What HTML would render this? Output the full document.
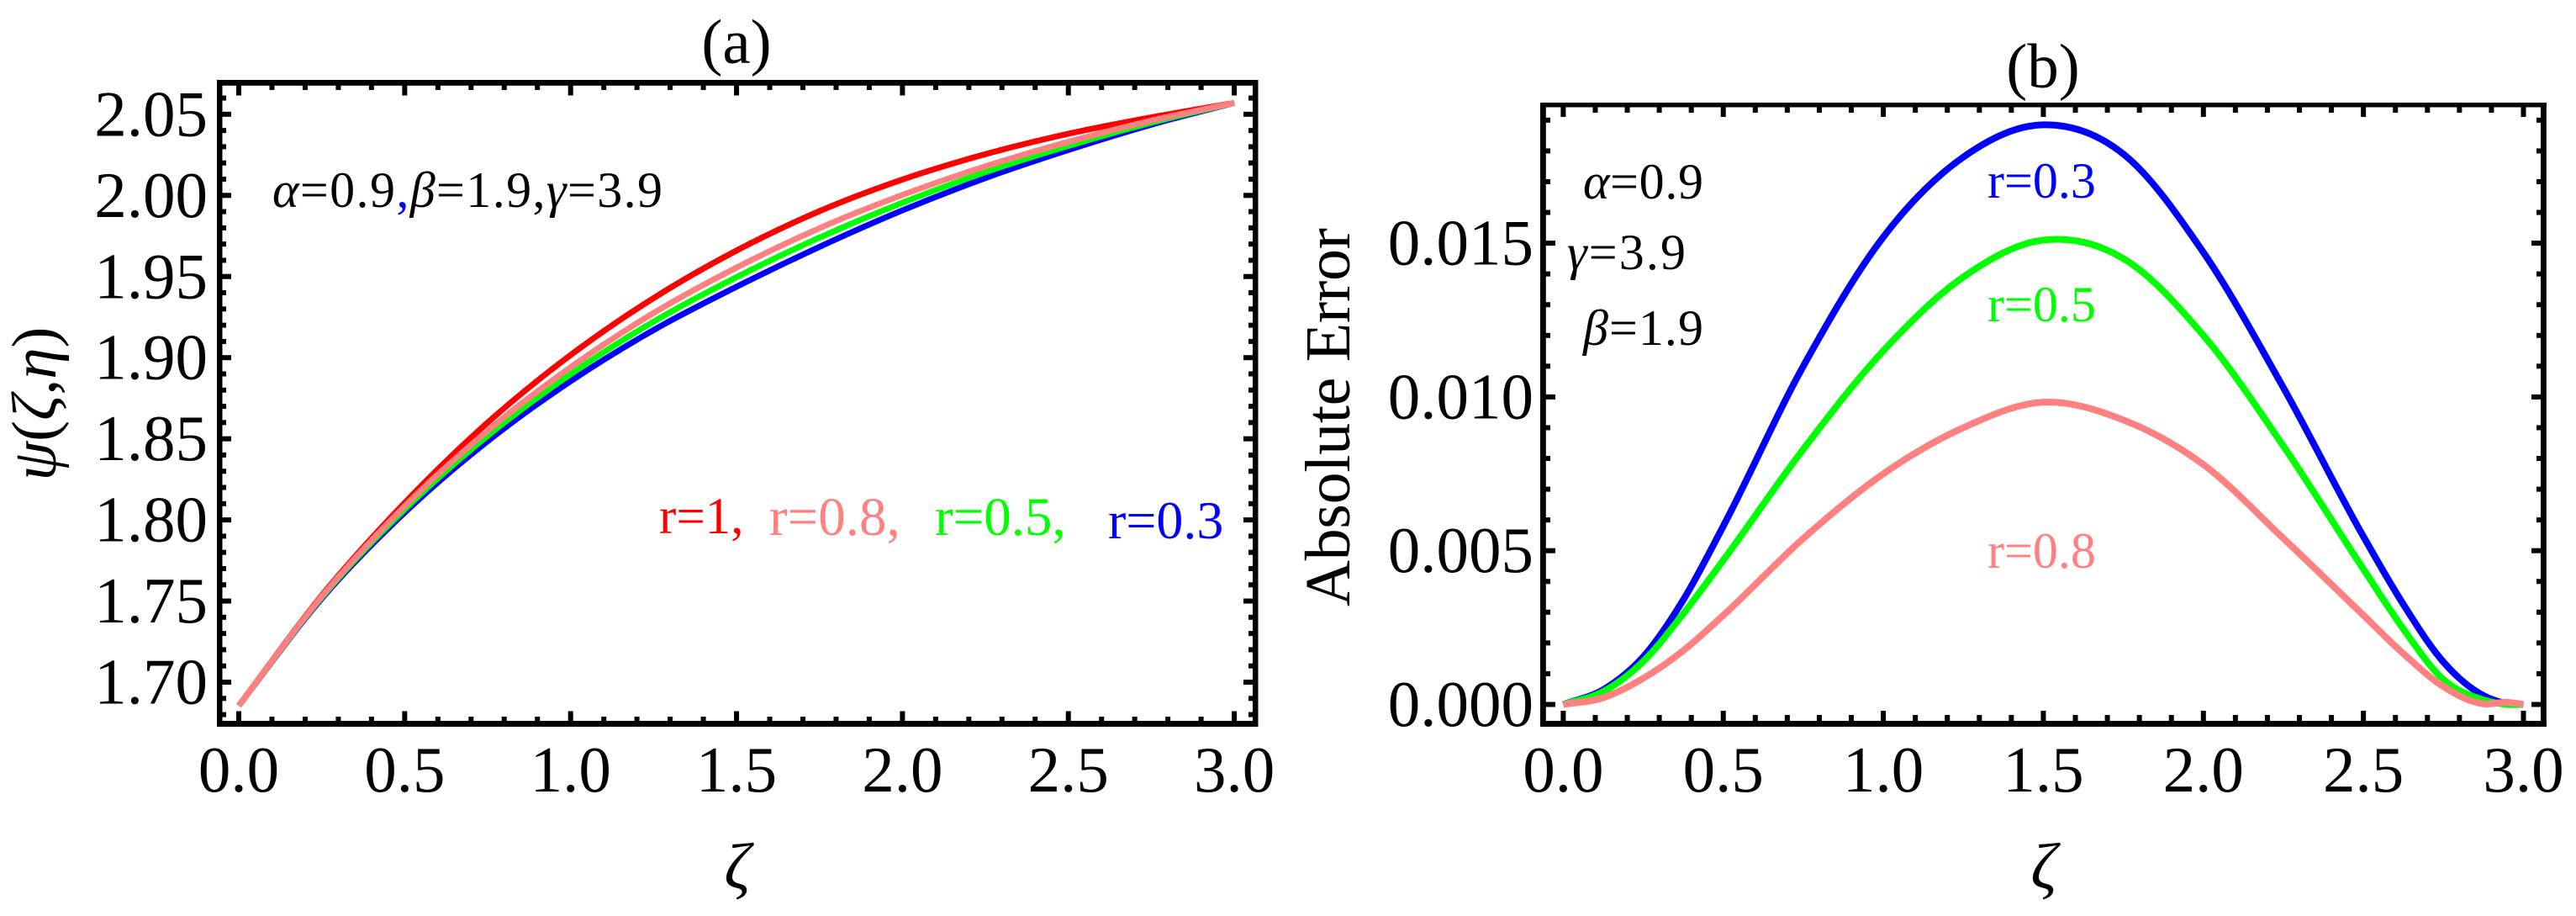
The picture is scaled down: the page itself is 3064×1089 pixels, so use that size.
<!DOCTYPE html>
<html lang="en">
<head>
<meta charset="utf-8">
<title>Solution curves and absolute error</title>
<style>
html,body{margin:0;padding:0;background:#fff;}
svg{display:block;}
text{font-family:"Liberation Serif",serif;fill:#000;}
.i{font-style:italic;}
</style>
</head>
<body>
<svg id="figure" xmlns="http://www.w3.org/2000/svg" width="3064" height="1089" viewBox="0 0 3064 1089">
  <rect x="0" y="0" width="3064" height="1089" fill="#fff"/>

  <g id="panel-a">
    <g id="a-ticks"></g>
    <g id="a-lines"></g>
    <g fill="#000">
      <rect x="258" y="95" width="1238.500" height="6.800"/>
      <rect x="258" y="857" width="1238.500" height="7"/>
      <rect x="258" y="95" width="6.500" height="769"/>
      <rect x="1490" y="95" width="6.500" height="769"/>
    </g>
    <g id="a-labels"></g>
    <text x="876" y="75" font-size="75" text-anchor="middle">(a)</text>
    <text class="i" x="877" y="1056" font-size="77" text-anchor="middle">ζ</text>
    <text transform="translate(66,480) rotate(-90)" font-size="75" text-anchor="middle"><tspan class="i">ψ</tspan>(<tspan class="i">ζ</tspan>,<tspan class="i">η</tspan>)</text>
    <text x="324" y="246" font-size="60" textLength="464"><tspan class="i">α</tspan>=0.9<tspan style="fill:#0000ff">,</tspan><tspan class="i">β</tspan>=1.9,<tspan class="i">γ</tspan>=3.9</text>
    <text x="784" y="634" font-size="61" style="fill:#ff0000">r=1,</text>
    <text x="915" y="636" font-size="65" style="fill:#ff8080">r=0.8,</text>
    <text x="1112" y="636" font-size="65" style="fill:#00ff00">r=0.5,</text>
    <text x="1318" y="640" font-size="64" style="fill:#0000ff">r=0.3</text>
  </g>

  <g id="panel-b">
    <g id="b-ticks"></g>
    <g id="b-lines"></g>
    <g fill="#000">
      <rect x="1832" y="122" width="1197" height="5.500"/>
      <rect x="1832" y="857" width="1197" height="7"/>
      <rect x="1832" y="122" width="6.800" height="742"/>
      <rect x="3022" y="122" width="6.800" height="742"/>
    </g>
    <g id="b-labels"></g>
    <text x="2430" y="104" font-size="75" text-anchor="middle">(b)</text>
    <text class="i" x="2431" y="1056" font-size="77" text-anchor="middle">ζ</text>
    <text transform="translate(1605,496) rotate(-90)" font-size="76" text-anchor="middle" textLength="450">Absolute Error</text>
    <text x="1883" y="236" font-size="60" textLength="143"><tspan class="i">α</tspan>=0.9</text>
    <text x="1864" y="320" font-size="60" textLength="141"><tspan class="i">γ</tspan>=3.9</text>
    <text x="1883" y="410" font-size="60" textLength="143"><tspan class="i">β</tspan>=1.9</text>
    <text x="2364" y="235" font-size="60" style="fill:#0000ff">r=0.3</text>
    <text x="2364" y="382" font-size="60" style="fill:#00ff00">r=0.5</text>
    <text x="2364" y="675" font-size="60" style="fill:#ff8080">r=0.8</text>
  </g>
</svg>

<script>
/* ---------- Panel (a) data ---------- */
const aZeta   = [0, 0.25, 0.5, 0.75, 1, 1.25, 1.5, 1.75, 2, 2.25, 2.5, 2.75, 3];
const aR1     = [1.6855, 1.7534, 1.8105, 1.8600, 1.9016, 1.9367, 1.9660, 1.9903, 2.0098, 2.0254, 2.0380, 2.0481, 2.0570];
const aR08    = [1.6855, 1.7528, 1.8085, 1.8550, 1.8941, 1.9275, 1.9555, 1.9798, 2.0003, 2.0179, 2.0330, 2.0461, 2.0570];
const aR05    = [1.6855, 1.7522, 1.8065, 1.8518, 1.8898, 1.9222, 1.9496, 1.9740, 1.9955, 2.0143, 2.0305, 2.0448, 2.0570];
const aR03    = [1.6855, 1.7515, 1.8045, 1.8485, 1.8855, 1.9170, 1.9437, 1.9683, 1.9908, 2.0107, 2.0280, 2.0436, 2.0570];
const aXTicks = ["0.0", "0.5", "1.0", "1.5", "2.0", "2.5", "3.0"];
const aYTicks = ["1.70", "1.75", "1.80", "1.85", "1.90", "1.95", "2.00", "2.05"];

/* ---------- Panel (b) data ---------- */
const bZeta   = [0, 0.125, 0.25, 0.375, 0.5, 0.75, 1, 1.25, 1.5, 1.75, 2, 2.25, 2.5, 2.625, 2.75, 2.875, 2.95, 3];
const bR03    = [0, 0.00048, 0.00155, 0.00340, 0.00580, 0.01100, 0.01520, 0.01780, 0.01885, 0.01790, 0.01470, 0.01030, 0.00546, 0.00325, 0.00138, 0.00029, 0.00003, 0];
const bR05    = [0, 0.00042, 0.00140, 0.00295, 0.00469, 0.00830, 0.01150, 0.01390, 0.01510, 0.01450, 0.01200, 0.00840, 0.00440, 0.00245, 0.00081, 0.00015, 0, 0];
const bR08    = [0, 0.00022, 0.00085, 0.00175, 0.00290, 0.00540, 0.00750, 0.00900, 0.00983, 0.00925, 0.00780, 0.00540, 0.00290, 0.00165, 0.00058, 0.00002, 0.00007, 0];
const bXTicks = ["0.0", "0.5", "1.0", "1.5", "2.0", "2.5", "3.0"];
const bYTicks = ["0.000", "0.005", "0.010", "0.015"];

/* ---------- Axis functions ---------- */
const ax = v => 284 + 394.7 * v;
const ay = v => 811 - (v - 1.70) * 1929;
const bx = v => 1859.4 + 380.7 * v;
const by = v => 837.5 - v * 36560;

const NS = "http://www.w3.org/2000/svg";

function smoothPath(xs, ys) {
  const n = xs.length, m = [];
  for (let i = 0; i < n; i++) {
    if (i === 0) m.push((ys[1] - ys[0]) / (xs[1] - xs[0]));
    else if (i === n - 1) m.push((ys[i] - ys[i - 1]) / (xs[i] - xs[i - 1]));
    else {
      const h0 = xs[i] - xs[i - 1], h1 = xs[i + 1] - xs[i];
      const d0 = (ys[i] - ys[i - 1]) / h0, d1 = (ys[i + 1] - ys[i]) / h1;
      m.push((d0 * h1 + d1 * h0) / (h0 + h1));
    }
  }
  let d = "M" + xs[0].toFixed(2) + " " + ys[0].toFixed(2);
  for (let i = 0; i < n - 1; i++) {
    const h = (xs[i + 1] - xs[i]) / 3;
    d += "C" + (xs[i] + h).toFixed(2) + " " + (ys[i] + m[i] * h).toFixed(2) + " " +
      (xs[i + 1] - h).toFixed(2) + " " + (ys[i + 1] - m[i + 1] * h).toFixed(2) + " " +
      xs[i + 1].toFixed(2) + " " + ys[i + 1].toFixed(2);
  }
  return d;
}

function drawSeries(parent, name, zeta, vals, fx, fy, color, width) {
  const p = document.createElementNS(NS, "path");
  p.setAttribute("d", smoothPath(zeta.map(fx), vals.map(fy)));
  p.setAttribute("fill", "none");
  p.setAttribute("stroke", color);
  p.setAttribute("stroke-width", width);
  
  
  parent.appendChild(p);
}

function tickRect(parent, name, x, y, w, h) {
  const r = document.createElementNS(NS, "rect");
  r.setAttribute("x", x);
  r.setAttribute("y", y);
  r.setAttribute("width", w);
  r.setAttribute("height", h);
  r.setAttribute("fill", "#000");
  
  
  parent.appendChild(r);
}

function tickLabel(parent, name, str, x, y, anchor) {
  const t = document.createElementNS(NS, "text");
  t.setAttribute("x", x);
  t.setAttribute("y", y);
  t.setAttribute("font-size", 77);
  t.setAttribute("text-anchor", anchor);
  t.textContent = str;
  
  
  parent.appendChild(t);
}

function drawAxes(cfg) {
  const T = document.getElementById(cfg.id + "-ticks");
  const L = document.getElementById(cfg.id + "-labels");
  const xMajor = cfg.xTicks.map(Number), yMajor = cfg.yTicks.map(Number);
  const tw = 6;
  /* x ticks */
  for (let k = 0; k <= 30; k++) {
    const v = k / 10, major = k % 5 === 0, len = major ? cfg.xMajorLen : cfg.xMinorLen;
    const px = cfg.fx(v) - tw / 2;
    tickRect(T, cfg.id + "-x-tick-top", px, cfg.top, tw, len);
    tickRect(T, cfg.id + "-x-tick-bottom", px, cfg.bottom - len, tw, len);
  }
  /* y ticks */
  const lo = Math.round(cfg.yMin / cfg.yMinorStep), hi = Math.round(cfg.yMax / cfg.yMinorStep);
  for (let k = lo; k <= hi; k++) {
    const v = k * cfg.yMinorStep;
    const major = yMajor.some(m => Math.abs(m - v) < 1e-7);
    const len = major ? cfg.yMajorLen : cfg.yMinorLen;
    const py = cfg.fy(v) - 3;
    tickRect(T, cfg.id + "-y-tick-left", cfg.left, py, len, 6);
    tickRect(T, cfg.id + "-y-tick-right", cfg.right - len, py, len, 6);
  }
  /* labels */
  cfg.xTicks.forEach((s, i) => tickLabel(L, cfg.id + "-x-tick-label", s, cfg.fx(xMajor[i]), 941, "middle"));
  cfg.yTicks.forEach((s, i) => tickLabel(L, cfg.id + "-y-tick-label", s, cfg.labelX, cfg.fy(yMajor[i]) + 25.5, "end"));
}

drawAxes({
  id: "a", fx: ax, fy: ay, xTicks: aXTicks, yTicks: aYTicks,
  top: 101, bottom: 858, left: 263, right: 1491,
  xMajorLen: 12.5, xMinorLen: 6, yMajorLen: 12, yMinorLen: 6,
  yMin: 1.68, yMax: 2.06, yMinorStep: 0.01, labelX: 247
});
drawAxes({
  id: "b", fx: bx, fy: by, xTicks: bXTicks, yTicks: bYTicks,
  top: 126, bottom: 858, left: 1838, right: 3023,
  xMajorLen: 13, xMinorLen: 8, yMajorLen: 12, yMinorLen: 6,
  yMin: 0, yMax: 0.019, yMinorStep: 0.001, labelX: 1824
});

const aG = document.getElementById("a-lines");
drawSeries(aG, "a-line-r-0.3", aZeta, aR03, ax, ay, "#0000ff", 7);
drawSeries(aG, "a-line-r-0.5", aZeta, aR05, ax, ay, "#00ff00", 7);
drawSeries(aG, "a-line-r-1", aZeta, aR1, ax, ay, "#ff0000", 7);
drawSeries(aG, "a-line-r-0.8", aZeta, aR08, ax, ay, "#ff8080", 7);

const bG = document.getElementById("b-lines");
drawSeries(bG, "b-line-r-0.3", bZeta, bR03, bx, by, "#0000ff", 8);
drawSeries(bG, "b-line-r-0.5", bZeta, bR05, bx, by, "#00ff00", 8);
drawSeries(bG, "b-line-r-0.8", bZeta, bR08, bx, by, "#ff8080", 8);
</script>
</body>
</html>
